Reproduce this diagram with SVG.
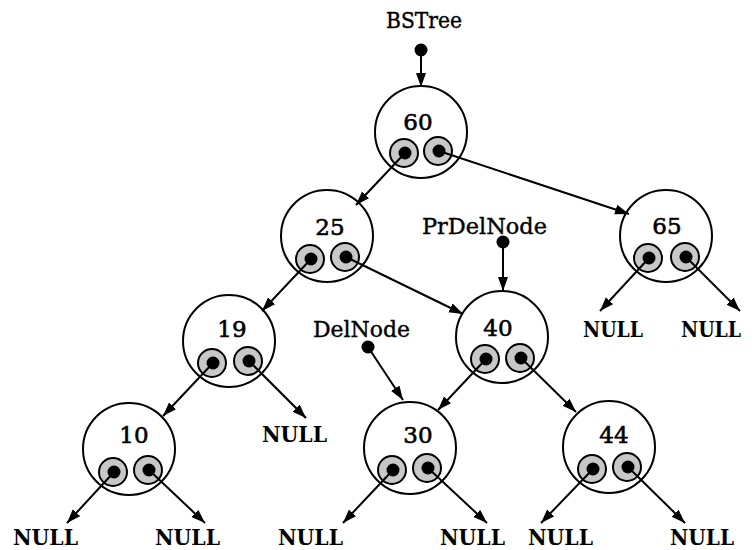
<svg xmlns="http://www.w3.org/2000/svg" width="755" height="550" viewBox="0 0 755 550">
<style>
.node{fill:#fff;stroke:#000;stroke-width:2}
.ptr{fill:#c8c8c8;stroke:#000;stroke-width:2}
.dot{fill:#000}
.num{font-family:"DejaVu Serif",serif;font-size:23px;text-anchor:middle;fill:#000;stroke:#000;stroke-width:0.6}
.lbl{font-family:"DejaVu Serif",serif;font-size:22px;fill:#000;stroke:#000;stroke-width:0.4}
.null{font-family:"DejaVu Serif",serif;font-weight:bold;font-size:23px;fill:#000}
.edge{stroke:#000;stroke-width:2;fill:none;marker-end:url(#arr)}
</style>
<defs>
<marker id="arr" markerUnits="userSpaceOnUse" markerWidth="16" markerHeight="12" refX="14" refY="5" orient="auto">
<path d="M0,0 L14,5 L0,10 z" fill="#000"/>
</marker>
</defs>
<rect width="755" height="550" fill="#fff"/>
<g id="labels">
<text class="lbl" x="386" y="28" textLength="76" lengthAdjust="spacingAndGlyphs">BSTree</text>
<text class="lbl" x="422" y="234" textLength="125" lengthAdjust="spacingAndGlyphs">PrDelNode</text>
<text class="lbl" x="313" y="337" textLength="97" lengthAdjust="spacingAndGlyphs">DelNode</text>
</g>
<g id="n60">
<circle class="node" cx="421" cy="132" r="46"/>
<text class="num" x="418" y="130">60</text>
<circle class="ptr" cx="404" cy="153" r="14"/><circle class="dot" cx="405" cy="153" r="6.5"/>
<circle class="ptr" cx="438" cy="151" r="14"/><circle class="dot" cx="439" cy="151" r="6.5"/>
</g>
<g id="n25">
<circle class="node" cx="327" cy="236" r="46"/>
<text class="num" x="330" y="235">25</text>
<circle class="ptr" cx="310" cy="259" r="14"/><circle class="dot" cx="311" cy="259" r="6.5"/>
<circle class="ptr" cx="345" cy="257" r="14"/><circle class="dot" cx="346" cy="257" r="6.5"/>
</g>
<g id="n65">
<circle class="node" cx="666" cy="236" r="46"/>
<text class="num" x="667" y="234">65</text>
<circle class="ptr" cx="648" cy="258" r="14"/><circle class="dot" cx="649" cy="258" r="6.5"/>
<circle class="ptr" cx="685" cy="257" r="14"/><circle class="dot" cx="686" cy="257" r="6.5"/>
</g>
<g id="n19">
<circle class="node" cx="229" cy="341" r="46"/>
<text class="num" x="232" y="337">19</text>
<circle class="ptr" cx="212" cy="363" r="14"/><circle class="dot" cx="213" cy="363" r="6.5"/>
<circle class="ptr" cx="248" cy="361" r="14"/><circle class="dot" cx="249" cy="361" r="6.5"/>
</g>
<g id="n40">
<circle class="node" cx="502" cy="337" r="46"/>
<text class="num" x="498" y="336">40</text>
<circle class="ptr" cx="485" cy="359" r="14"/><circle class="dot" cx="486" cy="359" r="6.5"/>
<circle class="ptr" cx="520" cy="358" r="14"/><circle class="dot" cx="521" cy="358" r="6.5"/>
</g>
<g id="n10">
<circle class="node" cx="129" cy="449" r="46"/>
<text class="num" x="134" y="443">10</text>
<circle class="ptr" cx="113" cy="472" r="14"/><circle class="dot" cx="114" cy="472" r="6.5"/>
<circle class="ptr" cx="148" cy="470" r="14"/><circle class="dot" cx="149" cy="470" r="6.5"/>
</g>
<g id="n30">
<circle class="node" cx="410" cy="448" r="46"/>
<text class="num" x="418" y="443">30</text>
<circle class="ptr" cx="392" cy="470" r="14"/><circle class="dot" cx="393" cy="470" r="6.5"/>
<circle class="ptr" cx="427" cy="468" r="14"/><circle class="dot" cx="428" cy="468" r="6.5"/>
</g>
<g id="n44">
<circle class="node" cx="609" cy="447" r="46"/>
<text class="num" x="614" y="443">44</text>
<circle class="ptr" cx="592" cy="469" r="14"/><circle class="dot" cx="593" cy="469" r="6.5"/>
<circle class="ptr" cx="627" cy="467" r="14"/><circle class="dot" cx="628" cy="467" r="6.5"/>
</g>
<g id="nulls">
<text class="null" x="583" y="337" textLength="60" lengthAdjust="spacingAndGlyphs">NULL</text>
<text class="null" x="681" y="337" font-size="21" textLength="60" lengthAdjust="spacingAndGlyphs">NULL</text>
<text class="null" x="262" y="442" textLength="65" lengthAdjust="spacingAndGlyphs">NULL</text>
<text class="null" x="13" y="545" textLength="65" lengthAdjust="spacingAndGlyphs">NULL</text>
<text class="null" x="155" y="545" textLength="65" lengthAdjust="spacingAndGlyphs">NULL</text>
<text class="null" x="278" y="545" textLength="65" lengthAdjust="spacingAndGlyphs">NULL</text>
<text class="null" x="440" y="545" textLength="65" lengthAdjust="spacingAndGlyphs">NULL</text>
<text class="null" x="528" y="545" textLength="65" lengthAdjust="spacingAndGlyphs">NULL</text>
<text class="null" x="670" y="545" textLength="64" lengthAdjust="spacingAndGlyphs">NULL</text>
</g>
<g id="connectors">
<line class="edge" x1="421" y1="50" x2="421" y2="87"/>
<line class="edge" x1="405" y1="153" x2="356" y2="205"/>
<line class="edge" x1="439" y1="151" x2="629" y2="214"/>
<line class="edge" x1="346" y1="257" x2="463" y2="314"/>
<line class="edge" x1="311" y1="259" x2="262" y2="311"/>
<line class="edge" x1="503" y1="242" x2="503" y2="291"/>
<line class="edge" x1="213" y1="363" x2="163" y2="416"/>
<line class="edge" x1="249" y1="361" x2="306" y2="418"/>
<line class="edge" x1="368" y1="347" x2="403" y2="400"/>
<line class="edge" x1="486" y1="359" x2="438" y2="410"/>
<line class="edge" x1="521" y1="358" x2="576" y2="412"/>
<line class="edge" x1="114" y1="472" x2="67" y2="523"/>
<line class="edge" x1="149" y1="470" x2="205" y2="523"/>
<line class="edge" x1="393" y1="470" x2="343" y2="523"/>
<line class="edge" x1="428" y1="468" x2="487" y2="523"/>
<line class="edge" x1="593" y1="469" x2="541" y2="523"/>
<line class="edge" x1="628" y1="467" x2="685" y2="523"/>
<line class="edge" x1="649" y1="258" x2="600" y2="311"/>
<line class="edge" x1="686" y1="257" x2="740" y2="311"/>
<circle class="dot" cx="421" cy="50" r="6.5"/>
<circle class="dot" cx="503" cy="242" r="6.5"/>
<circle class="dot" cx="368" cy="347" r="6.5"/>
</g>
</svg>
